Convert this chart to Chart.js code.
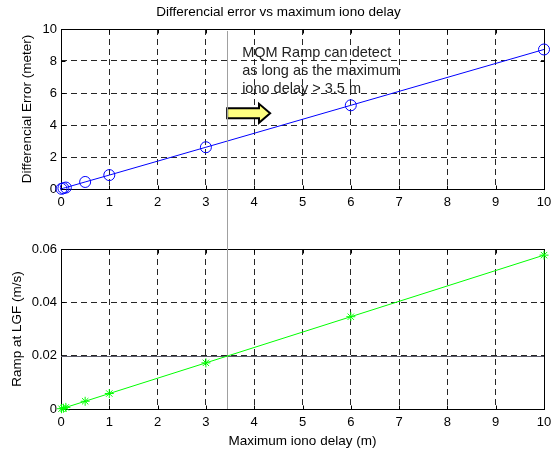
<!DOCTYPE html>
<html>
<head>
<meta charset="utf-8">
<script src="https://cdn.jsdelivr.net/npm/chart.js@4.4.0/dist/chart.umd.min.js"></script>
<style>
  html, body { margin: 0; padding: 0; background: #fff; }
  #wrap { position: relative; width: 551px; height: 452px; }
  #wrap canvas { position: absolute; left: 0; top: 0; }
</style>
</head>
<body>
<div id="wrap">
  <canvas id="errChart" width="551" height="452"></canvas>
  <canvas id="rampChart" width="551" height="452"></canvas>
</div>
<script>
// data
var ionoDelay = [0.01, 0.05, 0.1, 0.5, 1, 3, 6, 10];
var diffError = [0.01, 0.05, 0.09, 0.44, 0.87, 2.61, 5.23, 8.72];
var rampLGF = [0.0001, 0.0003, 0.0006, 0.0029, 0.0058, 0.0173, 0.0346, 0.0577];
var xTicks = [0, 1, 2, 3, 4, 5, 6, 7, 8, 9, 10];
var errTicks = [0, 2, 4, 6, 8, 10];
var rampTicks = [0, 0.02, 0.04, 0.06];
var detectDelay = 3.44;
var rampLimit = 0.0199;
var noteLines = ['MQM Ramp can detect', 'as long as the maximum', 'iono delay > 3.5 m'];

var FONT = '"Liberation Sans", Arial, sans-serif';

function points(xs, ys) {
  return xs.map(function (x, i) { return { x: x, y: ys[i] }; });
}

function setTicks(list) {
  return function (scale) {
    scale.ticks = list.map(function (v) { return { value: v }; });
  };
}

function fixX(h) {
  return function (s) {
    s.height = h;
    s.paddingLeft = 0;
    s.paddingRight = 0;
  };
}

// matlab-like box with inward ticks on every side
var matlabBox = {
  id: 'matlabBox',
  beforeDatasetsDraw: function (chart) {
    var ctx = chart.ctx, a = chart.chartArea;
    var sx = chart.scales.x, sy = chart.scales.y;
    var L = Math.round(a.left) + 0.5, R = Math.round(a.right) + 0.5;
    var T = Math.round(a.top) + 0.5, B = Math.round(a.bottom) + 0.5;
    ctx.save();
    ctx.strokeStyle = '#000';
    ctx.lineWidth = 1;
    ctx.beginPath();
    sx.ticks.forEach(function (t) {
      var px = Math.round(sx.getPixelForValue(t.value)) + 0.5;
      ctx.moveTo(px, B); ctx.lineTo(px, B - 4);
      ctx.moveTo(px, T); ctx.lineTo(px, T + 4);
    });
    sy.ticks.forEach(function (t) {
      var py = Math.round(sy.getPixelForValue(t.value)) + 0.5;
      ctx.moveTo(L, py); ctx.lineTo(L + 4, py);
      ctx.moveTo(R, py); ctx.lineTo(R - 4, py);
    });
    ctx.stroke();
    ctx.strokeRect(L, T, R - L, B - T);
    ctx.restore();
  }
};

// note + yellow arrow on the upper plot
var notePlugin = {
  id: 'notePlugin',
  afterDatasetsDraw: function (chart) {
    var ctx = chart.ctx;
    var sx = chart.scales.x, sy = chart.scales.y;
    var x0 = sx.getPixelForValue(detectDelay);
    var tip = sx.getPixelForValue(4.33);
    var neck = sx.getPixelForValue(4.1);
    var yc = sy.getPixelForValue(4.73);
    ctx.save();
    ctx.beginPath();
    ctx.moveTo(x0, yc - 5);
    ctx.lineTo(neck, yc - 5);
    ctx.lineTo(neck, yc - 9.5);
    ctx.lineTo(tip, yc);
    ctx.lineTo(neck, yc + 9.5);
    ctx.lineTo(neck, yc + 5);
    ctx.lineTo(x0, yc + 5);
    ctx.closePath();
    ctx.fillStyle = '#ffff80';
    ctx.fill();
    ctx.strokeStyle = '#000';
    ctx.lineWidth = 2;
    ctx.stroke();

    ctx.fillStyle = '#222';
    ctx.font = '14.5px ' + FONT;
    ctx.textBaseline = 'middle';
    ctx.textAlign = 'left';
    var tx = sx.getPixelForValue(3.75);
    var ty = sy.getPixelForValue(8.5);
    noteLines.forEach(function (s, i) {
      ctx.fillText(s, tx, ty + i * 18);
    });
    ctx.restore();
  }
};

var errChart = new Chart(document.getElementById('errChart'), {
  type: 'line',
  data: {
    datasets: [{
      data: points(ionoDelay, diffError),
      borderColor: '#0000ff',
      borderWidth: 1,
      pointStyle: 'circle',
      pointRadius: 5.5,
      pointBackgroundColor: 'rgba(0,0,0,0)',
      pointBorderColor: '#0000ff',
      pointBorderWidth: 1,
      tension: 0,
      clip: false
    }]
  },
  options: {
    responsive: false,
    animation: false,
    layout: { padding: { left: 13, right: 7, top: 0, bottom: 233 } },
    plugins: {
      legend: { display: false },
      tooltip: { enabled: false },
      title: {
        display: true,
        text: 'Differencial error vs maximum iono delay',
        color: '#000',
        font: { family: FONT, size: 13.5, weight: 'normal' },
        padding: { top: 4, bottom: 8.8 }
      }
    },
    scales: {
      x: {
        type: 'linear', min: 0, max: 10,
        afterBuildTicks: setTicks(xTicks),
        afterFit: fixX(30),
        grid: { color: 'rgba(0,0,0,0.85)', drawTicks: false },
        border: { display: false, dash: [6, 4] },
        ticks: { color: '#000', padding: 6, maxRotation: 0, autoSkip: false, font: { family: FONT, size: 13 } }
      },
      y: {
        type: 'linear', min: 0, max: 10,
        afterBuildTicks: setTicks(errTicks),
        afterFit: function (s) { s.width = 48; },
        grid: { color: 'rgba(0,0,0,0.85)', drawTicks: false },
        border: { display: false, dash: [6, 4] },
        ticks: { color: '#000', padding: 4, font: { family: FONT, size: 13 } },
        title: {
          display: true,
          text: 'Differencial Error (meter)',
          color: '#000',
          font: { family: FONT, size: 13.5 },
          padding: { top: 6, bottom: 0 }
        }
      }
    }
  },
  plugins: [matlabBox, notePlugin]
});

// grey marker lines: vertical at detection delay, horizontal at ramp limit
var limitLines = {
  id: 'limitLines',
  beforeDatasetsDraw: function (chart) {
    var ctx = chart.ctx, a = chart.chartArea;
    var sx = chart.scales.x, sy = chart.scales.y;
    var px = Math.round(sx.getPixelForValue(detectDelay)) + 0.5;
    var py = Math.round(sy.getPixelForValue(rampLimit)) + 0.5;
    ctx.save();
    ctx.lineWidth = 1;
    ctx.strokeStyle = '#5c5c6c';
    ctx.beginPath();
    ctx.moveTo(a.left, py); ctx.lineTo(a.right, py);
    ctx.stroke();
    ctx.strokeStyle = '#a0a0a0';
    ctx.beginPath();
    ctx.moveTo(px, errChart.chartArea.top + 2); ctx.lineTo(px, a.bottom);
    ctx.stroke();
    ctx.restore();
  }
};

var rampChart = new Chart(document.getElementById('rampChart'), {
  type: 'line',
  data: {
    datasets: [{
      data: points(ionoDelay, rampLGF),
      borderColor: '#00ff00',
      borderWidth: 1,
      pointStyle: 'star',
      pointRadius: 4.5,
      pointBackgroundColor: '#00ff00',
      pointBorderColor: '#00ff00',
      pointBorderWidth: 1,
      tension: 0,
      clip: false
    }]
  },
  options: {
    responsive: false,
    animation: false,
    layout: { padding: { left: 3, right: 7, top: 249, bottom: 0 } },
    plugins: {
      legend: { display: false },
      tooltip: { enabled: false }
    },
    scales: {
      x: {
        type: 'linear', min: 0, max: 10,
        afterBuildTicks: setTicks(xTicks),
        afterFit: fixX(43),
        grid: { color: 'rgba(0,0,0,0.85)', drawTicks: false },
        border: { display: false, dash: [6, 4] },
        ticks: { color: '#000', padding: 6, maxRotation: 0, autoSkip: false, font: { family: FONT, size: 13 } },
        title: {
          display: true,
          text: 'Maximum iono delay (m)',
          color: '#000',
          font: { family: FONT, size: 13.5 },
          padding: { top: 0, bottom: 2.2 }
        }
      },
      y: {
        type: 'linear', min: 0, max: 0.06,
        afterBuildTicks: setTicks(rampTicks),
        afterFit: function (s) { s.width = 58; },
        grid: { color: 'rgba(0,0,0,0.85)', drawTicks: false },
        border: { display: false, dash: [6, 4] },
        ticks: { color: '#000', padding: 4, font: { family: FONT, size: 13 } },
        title: {
          display: true,
          text: 'Ramp at LGF (m/s)',
          color: '#000',
          font: { family: FONT, size: 13.5 },
          padding: { top: 6, bottom: 0 }
        }
      }
    }
  },
  plugins: [matlabBox, limitLines]
});
</script>
</body>
</html>
